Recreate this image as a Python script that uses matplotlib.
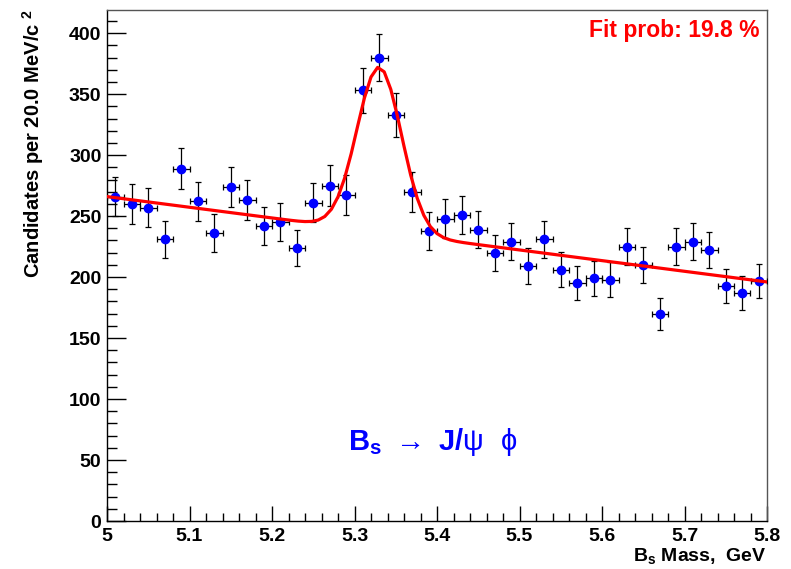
import numpy as np
import matplotlib.pyplot as plt
from matplotlib.ticker import MultipleLocator

# Fonts: Arial-like bold, as in the ROOT canvas
plt.rcParams['font.family'] = ['Liberation Sans', 'DejaVu Sans']
plt.rcParams['font.weight'] = 'bold'
plt.rcParams['mathtext.fontset'] = 'custom'
plt.rcParams['mathtext.rm'] = 'Liberation Sans:weight=bold'
plt.rcParams['mathtext.bf'] = 'Liberation Sans:weight=bold'
plt.rcParams['mathtext.it'] = 'Liberation Sans:weight=bold:slant=italic'
plt.rcParams['mathtext.sf'] = 'Liberation Sans:weight=normal'

# Histogram: 40 bins of 20 MeV between 5.0 and 5.8 GeV
mass_lo = 5.0
mass_hi = 5.8
n_bins = 40
counts = [266, 260, 257, 231, 289, 262, 236, 274, 263, 242,
          245, 224, 261, 275, 267, 353, 380, 333, 270, 238,
          248, 251, 239, 220, 229, 209, 231, 206, 195, 199,
          198, 225, 210, 170, 225, 229, 222, 193, 187, 197]

# Fit: linear background + gaussian peak
bg_at_lo = 266.0
bg_slope = -87.5
peak_amp = 135.0
peak_mean = 5.330
peak_sigma = 0.027
fit_prob = 19.8

bin_w = (mass_hi - mass_lo) / n_bins
centers = np.linspace(mass_lo + bin_w / 2, mass_hi - bin_w / 2, n_bins)
counts = np.array(counts)
errs = np.sqrt(counts)

xf = np.linspace(mass_lo, mass_hi, 101)
yf = bg_at_lo + bg_slope * (xf - mass_lo) + peak_amp * np.exp(-0.5 * ((xf - peak_mean) / peak_sigma) ** 2)

fig = plt.figure(figsize=(7.91, 5.69), dpi=100)
ax = fig.add_axes([107 / 791, 1 - 521 / 569, 660 / 791, 511 / 569])

ax.errorbar(centers, counts, yerr=errs, xerr=bin_w / 2, fmt='o', color='blue',
            ecolor='black', elinewidth=0.9, capsize=2, capthick=0.9,
            markersize=6, zorder=3)
ax.plot(xf, yf, color='red', lw=2.3, zorder=4)

ax.set_xlim(mass_lo, mass_hi)
ax.set_ylim(0, 419)

ax.xaxis.set_major_locator(MultipleLocator(0.1))
ax.xaxis.set_minor_locator(MultipleLocator(0.02))
ax.yaxis.set_major_locator(MultipleLocator(50))
ax.yaxis.set_minor_locator(MultipleLocator(10))
ax.xaxis.set_major_formatter(plt.FuncFormatter(lambda v, p: '%g' % round(v, 2)))
ax.tick_params(axis='x', which='major', direction='in', length=11, width=1, labelsize=14, pad=5)
ax.tick_params(axis='x', which='minor', direction='in', length=5.5, width=1)
ax.tick_params(axis='y', which='major', direction='in', length=14, width=1, labelsize=14, pad=4)
ax.tick_params(axis='y', which='minor', direction='in', length=7, width=1)
for s in ('left', 'bottom'):
    ax.spines[s].set_linewidth(1)
for s in ('top', 'right'):
    ax.spines[s].set_linewidth(1)
    ax.spines[s].set_color('#555555')

fig.text(33 / 791, 1 - 9 / 569, r'Candidates per 20.0 MeV/c $^{2}$', rotation=90,
         ha='center', va='top', fontsize=14.5)
fig.text(767 / 791, 1 - 556 / 569, r'B$_{\mathrm{s}}$ Mass,  GeV', ha='right', va='center', fontsize=14)

ax.text((760 - 107) / 660, (521 - 19) / 511, 'Fit prob: %.1f %%' % fit_prob,
        transform=ax.transAxes, color='red', ha='right', va='top', fontsize=16.5)
ax.text(5.395, 65, r'$\mathbf{B_s}\ \mathsf{\rightarrow}\ \mathbf{J/}\mathsf{\psi}\ \ \mathsf{\phi}$',
        color='blue', ha='center', va='center', fontsize=21)

fig.savefig('out.png', dpi=100)
